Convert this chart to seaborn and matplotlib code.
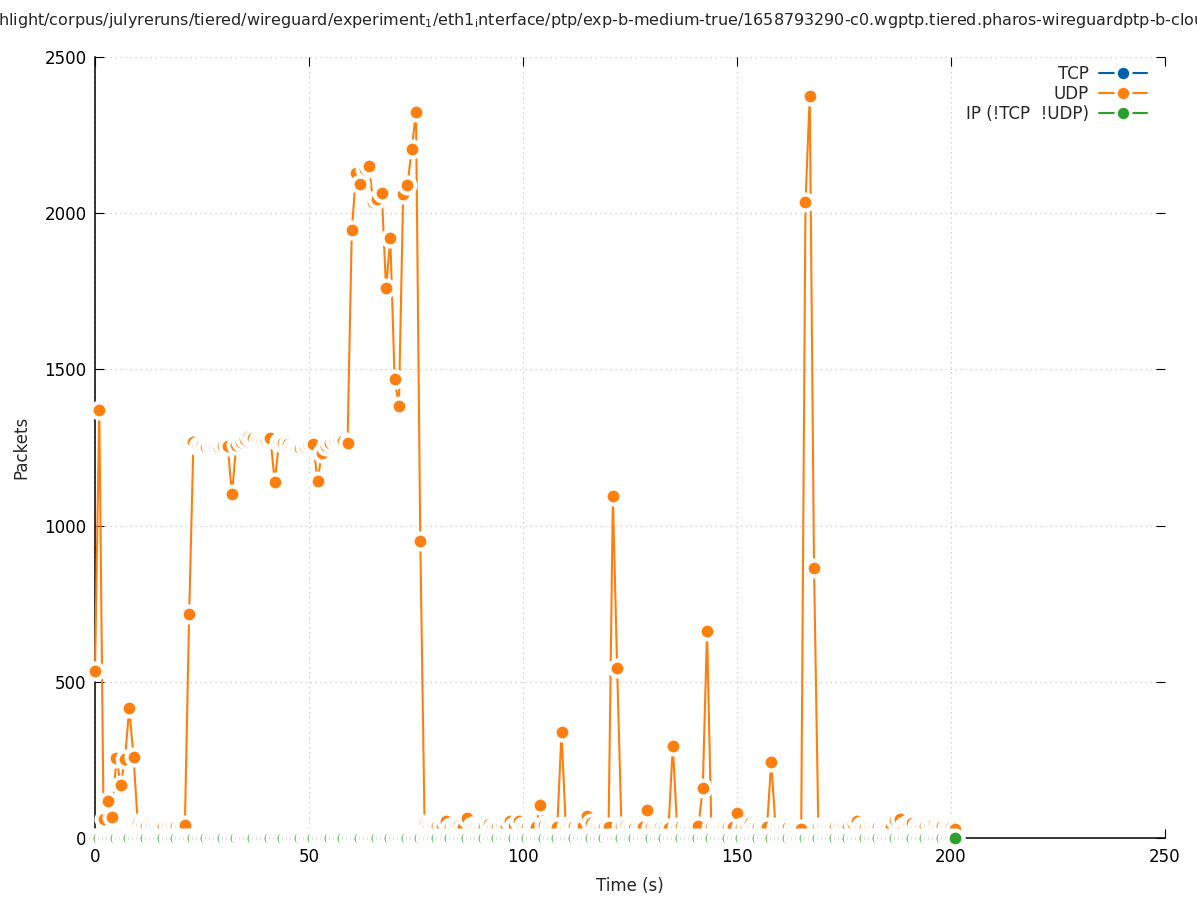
import numpy as np
import pandas as pd
import matplotlib
matplotlib.use('Agg')
import matplotlib.pyplot as plt
from matplotlib.lines import Line2D
import seaborn as sns

# Packet counts per second
time_s = list(range(0, 202))

udp_packets = [
    535, 1370, 60, 120, 67, 257, 170, 252, 415, 260,            # 0-9
    47, 42, 40, 42, 40, 38, 40, 42, 38, 40,                      # 10-19
    38, 42, 716, 1268, 1255, 1258, 1253, 1255, 1252, 1250,       # 20-29
    1254, 1255, 1100, 1258, 1268, 1278, 1287, 1280, 1274, 1270,  # 30-39
    1275, 1279, 1140, 1268, 1265, 1260, 1252, 1247, 1250, 1253,  # 40-49
    1258, 1262, 1143, 1231, 1255, 1265, 1272, 1275, 1270, 1264,  # 50-59
    1945, 2130, 2095, 2140, 2150, 2035, 2045, 2065, 1760, 1920,  # 60-69
    1470, 1382, 2062, 2090, 2205, 2325, 952, 46, 40, 42,         # 70-79
    40, 38, 55, 36, 38, 42, 36, 63, 38, 40,                      # 80-89
    36, 38, 46, 35, 38, 42, 40, 53, 40, 54,                      # 90-99
    38, 35, 36, 36, 106, 42, 38, 36, 34, 338,                    # 100-109
    36, 43, 38, 36, 40, 70, 47, 38, 36, 34,                      # 110-119
    36, 1095, 543, 38, 42, 36, 32, 30, 35, 90,                   # 120-129
    34, 36, 35, 30, 32, 295, 36, 38, 35, 36,                     # 130-139
    34, 40, 160, 662, 36, 34, 36, 38, 36, 34,                    # 140-149
    80, 36, 40, 49, 38, 36, 36, 34, 243, 36,                     # 150-159
    35, 36, 34, 32, 30, 28, 2035, 2375, 865, 36,                 # 160-169
    38, 36, 35, 38, 42, 38, 40, 45, 56, 38,                      # 170-179
    36, 38, 36, 35, 36, 38, 40, 58, 62, 40,                      # 180-189
    44, 47, 40, 38, 40, 42, 44, 40, 38, 36,                      # 190-199
    36, 28,                                                      # 200-201
]
tcp_packets = [0] * len(time_s)
ip_packets = [0] * len(time_s)

protocols = ['TCP', 'UDP', 'IP (!TCP  !UDP)']
colors = ['#0060ad', '#ff7f0e', '#2ca02c']

title = ('hlight/corpus/julyreruns/tiered/wireguard/experiment$_1$/eth1$_\\mathrm{i}$nterface/ptp/'
         'exp-b-medium-true/1658793290-c0.wgptp.tiered.pharos-wireguardptp-b-cloud')

df = pd.concat([
    pd.DataFrame({'time': time_s, 'packets': tcp_packets, 'protocol': protocols[0]}),
    pd.DataFrame({'time': time_s, 'packets': udp_packets, 'protocol': protocols[1]}),
    pd.DataFrame({'time': time_s, 'packets': ip_packets, 'protocol': protocols[2]}),
], ignore_index=True)

sns.set_theme(style='ticks')
plt.rcParams['font.family'] = ['DejaVu Sans']
plt.rcParams['mathtext.fontset'] = 'dejavusans'

fig = plt.figure(figsize=(11.97, 9.0), dpi=100)
ax = fig.add_axes([95 / 1197, 1 - 838 / 900, 1070 / 1197, 781 / 900])

# white halo round every point, like gnuplot's pointinterval gaps
ms, mew = 11.45, 2.95
sns.lineplot(data=df, x='time', y='packets', hue='protocol', hue_order=protocols,
             palette=colors, marker='o', markersize=ms, markeredgecolor='white',
             markeredgewidth=mew, linewidth=1.5, estimator=None, legend=False,
             ax=ax, zorder=3, clip_on=False)

ax.set_xlim(0, 250)
ax.set_ylim(0, 2500)
ax.set_xticks(range(0, 251, 50))
ax.set_yticks(range(0, 2501, 500))
ax.set_xlabel('Time (s)', fontsize=12, labelpad=8)
ax.set_ylabel('Packets', fontsize=12, labelpad=10)
ax.grid(True, color='#c8c8c8', linestyle=(0, (1, 3)), linewidth=0.9)

for side in ['top', 'right']:
    ax.spines[side].set_visible(False)
for side in ['left', 'bottom']:
    ax.spines[side].set_linewidth(1.1)
    ax.spines[side].set_color('black')
ax.tick_params(direction='in', length=6.5, width=0.8, color='black',
               top=True, right=True, labelsize=12, labelcolor='black')
ax.tick_params(axis='x', pad=7)
ax.tick_params(axis='y', pad=6)

handles = [Line2D([], [], color=c, marker='o', markersize=10.6, markeredgecolor='white',
                  markeredgewidth=2.4, linewidth=1.5) for c in colors]
fig.legend(handles, protocols, loc='upper right', bbox_to_anchor=(1147 / 1197, 1 - 65 / 900),
           markerfirst=False, frameon=False, fontsize=12, handlelength=2.9,
           handletextpad=0.6, labelspacing=0.12, borderpad=0, borderaxespad=0, numpoints=1)

fig.text(-2 / 1197, 1 - 21 / 900, title, ha='left', va='center', fontsize=11.5)

fig.savefig('out.png', dpi=100)
